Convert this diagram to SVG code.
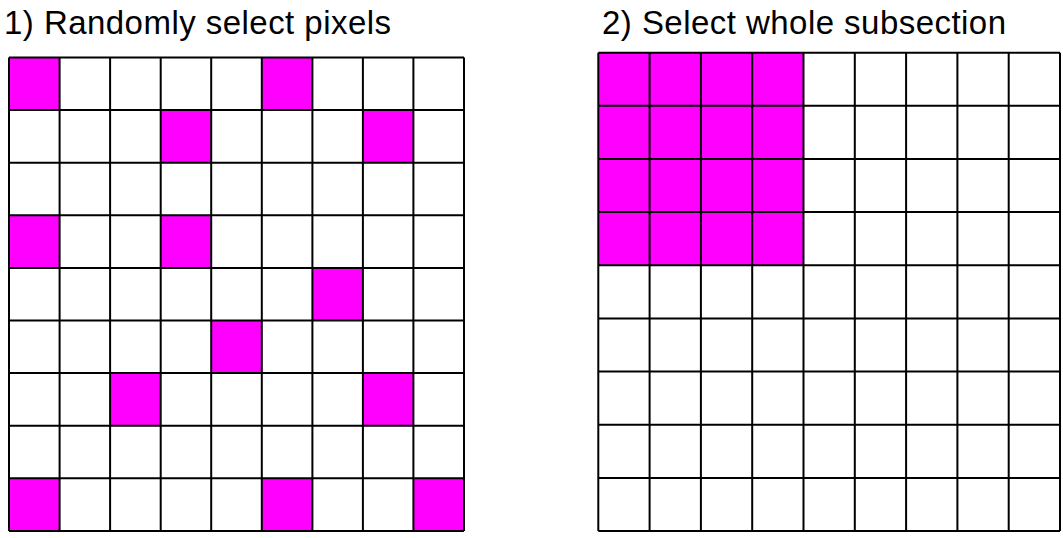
<svg xmlns="http://www.w3.org/2000/svg" width="1063" height="538" viewBox="0 0 1063 538">
<style>
.t{font-family:"Liberation Sans",Arial,sans-serif;font-size:33px;fill:#000}
.m{fill:#ff00ff;stroke:none}
.g{stroke:#000;stroke-width:2;fill:none}
</style>
<rect width="1063" height="538" fill="#fff"/>
<text class="t" x="4" y="34" textLength="387" lengthAdjust="spacing">1) Randomly select pixels</text>
<text class="t" x="602" y="34" textLength="404" lengthAdjust="spacing">2) Select whole subsection</text>
<g id="grid1">
<g id="grid1-fill">
<rect class="m" x="9" y="57.5" width="50.6" height="52.6"/>
<rect class="m" x="261.8" y="57.5" width="50.6" height="52.6"/>
<rect class="m" x="160.7" y="110.1" width="50.6" height="52.6"/>
<rect class="m" x="362.9" y="110.1" width="50.6" height="52.6"/>
<rect class="m" x="9" y="215.3" width="50.6" height="52.6"/>
<rect class="m" x="160.7" y="215.3" width="50.6" height="52.6"/>
<rect class="m" x="312.4" y="267.9" width="50.6" height="52.6"/>
<rect class="m" x="211.2" y="320.5" width="50.6" height="52.6"/>
<rect class="m" x="110.1" y="373.1" width="50.6" height="52.6"/>
<rect class="m" x="362.9" y="373.1" width="50.6" height="52.6"/>
<rect class="m" x="9" y="478.3" width="50.6" height="52.6"/>
<rect class="m" x="261.8" y="478.3" width="50.6" height="52.6"/>
<rect class="m" x="413.4" y="478.3" width="50.6" height="52.6"/>
</g>
<path class="g" d="M9 57.5V531M59.6 57.5V531M110.1 57.5V531M160.7 57.5V531M211.2 57.5V531M261.8 57.5V531M312.4 57.5V531M362.9 57.5V531M413.4 57.5V531M464 57.5V531
M9 57.5H464M9 110.1H464M9 162.7H464M9 215.3H464M9 267.9H464M9 320.5H464M9 373.1H464M9 425.7H464M9 478.3H464M9 531H464"/>
</g>
<g id="grid2">
<rect class="m" x="598.3" y="52.7" width="205.2" height="212.6"/>
<path class="g" d="M598.3 52.7V531M649.6 52.7V531M700.9 52.7V531M752.2 52.7V531M803.5 52.7V531M854.8 52.7V531M906.1 52.7V531M957.4 52.7V531M1008.7 52.7V531M1060 52.7V531
M598.3 52.7H1060M598.3 105.8H1060M598.3 159H1060M598.3 212.1H1060M598.3 265.3H1060M598.3 318.4H1060M598.3 371.6H1060M598.3 424.7H1060M598.3 477.9H1060M598.3 531H1060"/>
</g>
</svg>
